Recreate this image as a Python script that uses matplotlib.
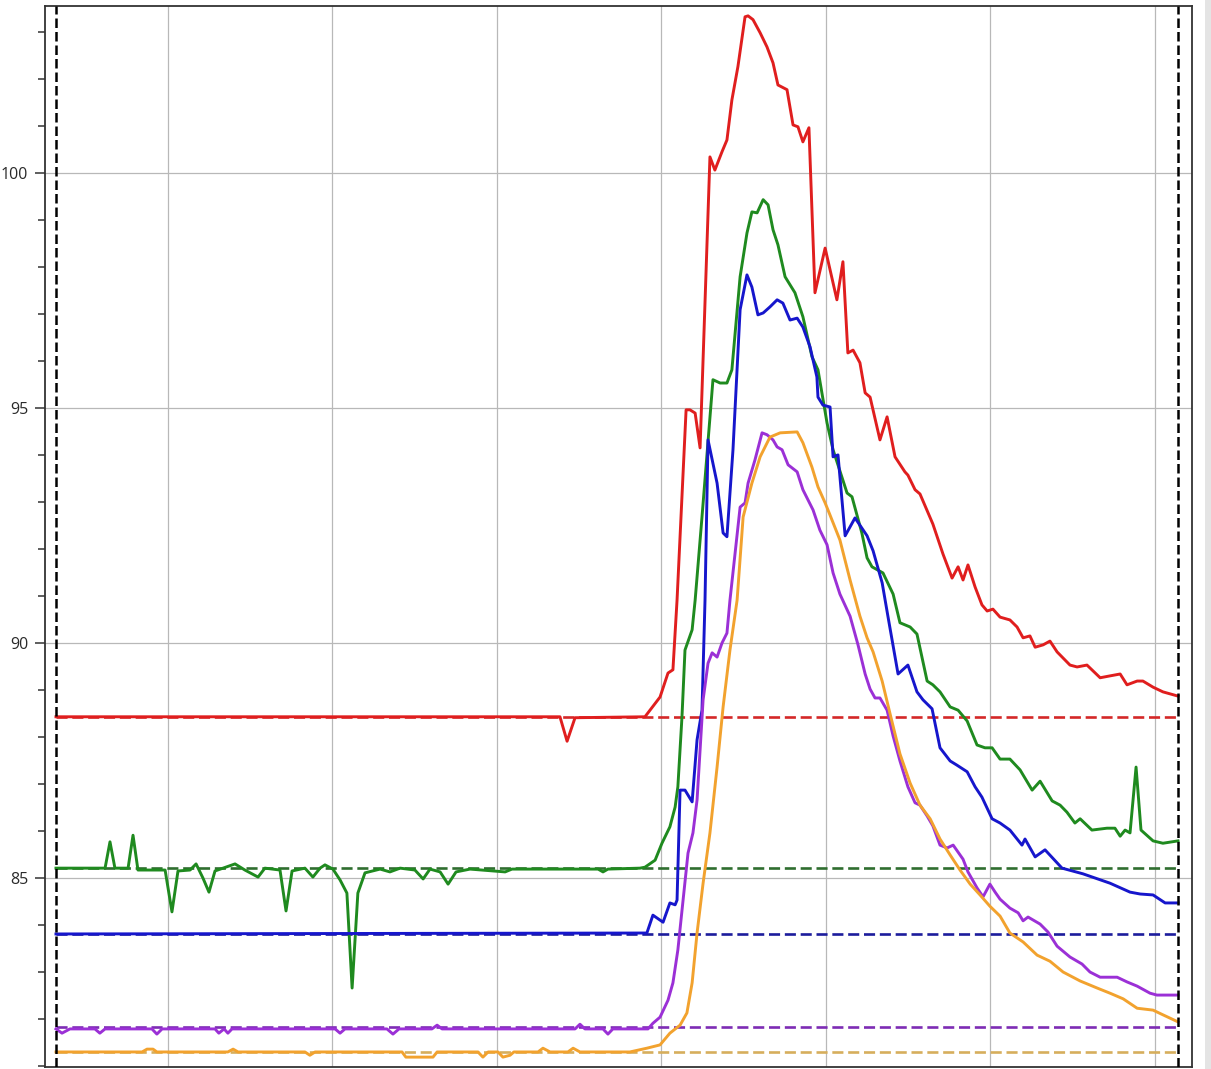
import matplotlib
matplotlib.use("Agg")
import matplotlib.pyplot as plt
from matplotlib.ticker import MultipleLocator
from matplotlib.patches import Rectangle

# Time in seconds from the start of the recording, values in the sensor units
red_t = [0, 183.8, 186.4, 189.3, 214.8, 220.3, 223.2, 225.0, 226.5, 229.8, 231.2, 233.1, 234.9,
         238.5, 240.3, 242.9, 244.7, 246.5, 248.7, 251.3, 252.4, 254.2, 256.8, 259.3, 261.5,
         263.3, 266.6, 268.8, 270.6, 272.4, 274.6, 276.8, 280.5, 284.8, 287.0, 288.8, 290.7,
         293.2, 295.1, 296.9, 300.5, 303.1, 306.0, 309.6, 310.7, 313.3, 315.1, 319.8, 323.5,
         326.8, 329.0, 330.8, 332.6, 335.2, 337.7, 339.6, 341.7, 344.3, 347.9, 350.5, 352.7,
         355.2, 357.1, 360.0, 362.5, 365.1, 369.8, 372.4, 376.0, 380.8, 384.4, 388.1, 390.6,
         394.3, 396.4, 400.1, 403.7, 409.2]
red_v = [88.43, 88.43, 87.91, 88.41, 88.43, 88.85, 89.36, 89.43, 90.91, 94.96, 94.96, 94.89, 94.15,
         100.34, 100.06, 100.45, 100.70, 101.55, 102.26, 103.32, 103.34, 103.26, 102.98, 102.68, 102.34,
         101.87, 101.77, 101.02, 100.98, 100.66, 100.96, 97.45, 98.40, 97.30, 98.11, 96.17, 96.23,
         95.96, 95.32, 95.23, 94.32, 94.81, 93.96, 93.64, 93.57, 93.26, 93.17, 92.53, 91.89,
         91.38, 91.62, 91.34, 91.66, 91.19, 90.81, 90.68, 90.72, 90.55, 90.49, 90.34, 90.11,
         90.15, 89.91, 89.96, 90.04, 89.81, 89.53, 89.49, 89.53, 89.26, 89.30, 89.34, 89.11,
         89.19, 89.19, 89.06, 88.96, 88.87]

green_t = [0, 16.0, 17.9, 19.7, 21.5, 26.3, 28.1, 29.9, 39.8, 42.3, 44.5, 48.9, 51.1, 53.6, 55.8,
           58.0, 65.3, 68.9, 73.7, 76.2, 81.7, 83.9, 86.1, 90.8, 93.7, 96.3, 98.1, 101.0, 103.6,
           106.1, 108.0, 110.1, 112.7, 118.2, 121.8, 125.5, 130.9, 133.9, 136.4, 140.1, 143.0,
           145.9, 151.0, 163.8, 166.3, 197.7, 199.5, 201.3, 213.0,
           214.8, 218.5, 221.0, 223.9, 225.8, 226.8, 228.3, 229.4, 232.0, 233.1, 235.6, 239.6,
           242.2, 244.7, 246.5, 249.5, 252.0, 253.8, 255.7, 257.9, 259.7, 261.5, 263.3, 265.9,
           269.5, 272.4, 275.7, 277.9, 281.2, 283.4, 288.5, 290.3, 293.9, 295.8, 297.6, 301.6,
           305.3, 307.8, 311.5, 314.0, 317.7, 319.8, 322.4, 326.1, 329.0, 332.3, 335.9, 338.8,
           341.4, 344.3, 347.9, 351.6, 356.0, 358.9, 363.3, 366.2, 368.7, 371.6, 373.5, 377.8,
           383.3, 386.2, 388.1, 389.9, 391.7, 393.9, 395.7, 400.1, 403.7, 409.2]
green_v = [85.21, 85.21, 85.21, 85.77, 85.21, 85.21, 85.91, 85.17, 85.17, 84.28, 85.15, 85.17, 85.30, 85.00, 84.70,
           85.15, 85.30, 85.17, 85.02, 85.21, 85.17, 84.30, 85.15, 85.21, 85.02, 85.21, 85.28, 85.19, 84.96,
           84.68, 82.66, 84.68, 85.11, 85.19, 85.13, 85.21, 85.17, 84.98, 85.19, 85.13, 84.87,
           85.13, 85.19, 85.13, 85.19, 85.19, 85.13, 85.19, 85.21,
           85.23, 85.38, 85.74, 86.09, 86.51, 86.94, 88.43, 89.85, 90.28, 90.91, 92.68, 95.60,
           95.53, 95.53, 95.81, 97.79, 98.72, 99.17, 99.15, 99.43, 99.32, 98.79, 98.47, 97.79,
           97.45, 96.94, 96.09, 95.81, 94.68, 94.11, 93.19, 93.11, 92.34, 91.81, 91.62, 91.49,
           91.04, 90.43, 90.34, 90.19, 89.19, 89.11, 88.96, 88.64, 88.57, 88.34, 87.83, 87.77,
           87.77, 87.53, 87.53, 87.30, 86.87, 87.06, 86.64, 86.55, 86.40, 86.17, 86.26, 86.02,
           86.06, 86.06, 85.89, 86.02, 85.96, 87.36, 86.02, 85.79, 85.74, 85.79]

blue_t = [0, 215.5, 217.7, 221.4, 223.9, 225.8, 226.5, 227.6, 229.4, 232.0, 233.8, 235.6, 236.7,
          237.8, 241.1, 243.3, 244.7, 246.9, 249.5, 252.0, 253.8, 256.0, 257.9, 260.4, 263.0,
          265.1, 267.7, 270.3, 272.4, 275.0, 277.5, 277.9, 279.7, 282.3, 283.4, 285.2, 287.8,
          291.4, 295.8, 298.0, 301.3, 303.4, 307.1, 310.7, 314.0, 316.2, 319.5, 322.4, 326.1,
          328.6, 332.3, 335.2, 337.7, 341.4, 344.3, 347.9, 352.3, 353.4, 357.1, 360.7, 366.9,
          374.5, 384.4, 391.7, 395.4, 400.1, 404.5, 409.2]
blue_v = [83.81, 83.83, 84.21, 84.06, 84.47, 84.43, 84.53, 86.87, 86.87, 86.62, 87.94, 88.57, 90.91,
          94.32, 93.40, 92.34, 92.26, 94.11, 97.09, 97.83, 97.57, 96.98, 97.02, 97.15, 97.30,
          97.23, 96.87, 96.91, 96.72, 96.30, 95.66, 95.23, 95.06, 95.02, 93.96, 94.00, 92.28,
          92.66, 92.28, 91.96, 91.28, 90.57, 89.34, 89.53, 88.96, 88.79, 88.60, 87.77, 87.49,
          87.40, 87.26, 86.94, 86.72, 86.26, 86.17, 86.02, 85.70, 85.83, 85.45, 85.60, 85.21,
          85.09, 84.89, 84.70, 84.66, 84.64, 84.47, 84.47]

purple_t = [0, 2.2, 5.1, 14.2, 16.0, 17.9, 35.0, 36.8, 38.7, 58.0, 59.4, 61.3, 62.7, 64.2,
            101.8, 103.6, 105.4, 120.7, 122.9, 125.1, 137.1, 139.0, 140.8, 189.3, 191.1, 192.9,
            199.5, 201.3, 203.1, 215.9,
            217.7, 220.3, 223.2, 225.0, 226.8, 228.7, 230.5, 232.3, 233.8, 234.9, 236.0, 237.8,
            239.3, 241.1, 242.9, 244.7, 245.8, 249.5, 251.3, 252.4, 254.9, 257.5, 259.3, 261.5,
            263.0, 264.8, 267.0, 270.3, 272.4, 276.1, 278.6, 281.2, 283.4, 285.9, 289.6, 292.5,
            295.1, 296.9, 298.7, 300.5, 303.1, 305.3, 307.8, 310.7, 313.3, 315.1, 317.7, 319.8,
            322.4, 325.0, 327.2, 330.8, 332.6, 335.9, 338.1, 340.6, 342.5, 344.3, 347.9, 350.9,
            352.7, 354.5, 358.9, 361.8, 365.1, 369.8, 374.2, 377.1, 380.8, 387.0, 390.6, 394.3,
            399.0, 401.5, 409.2]
purple_v = [81.79, 81.70, 81.79, 81.79, 81.70, 81.79, 81.79, 81.68, 81.79, 81.79, 81.70, 81.79, 81.70, 81.79,
            81.79, 81.70, 81.79, 81.79, 81.68, 81.79, 81.79, 81.87, 81.79, 81.79, 81.89, 81.79,
            81.79, 81.68, 81.79, 81.79,
            81.91, 82.04, 82.40, 82.77, 83.47, 84.53, 85.53, 85.96, 86.66, 87.72, 88.79, 89.57,
            89.79, 89.70, 90.00, 90.21, 90.91, 92.89, 92.98, 93.40, 93.89, 94.47, 94.43, 94.32,
            94.17, 94.11, 93.79, 93.64, 93.26, 92.83, 92.40, 92.09, 91.49, 91.04, 90.57, 89.96,
            89.34, 89.02, 88.83, 88.83, 88.57, 88.02, 87.49, 86.94, 86.60, 86.55, 86.32, 86.11,
            85.70, 85.64, 85.70, 85.40, 85.13, 84.79, 84.60, 84.87, 84.70, 84.55, 84.36, 84.26,
            84.09, 84.17, 84.02, 83.85, 83.55, 83.32, 83.17, 83.00, 82.89, 82.89, 82.79, 82.70,
            82.55, 82.51, 82.51]

orange_t = [0, 31.4, 33.2, 35.4, 36.8, 62.7, 64.6, 66.4, 90.8, 92.6, 94.5, 126.2, 127.6, 137.5,
            139.0, 153.9, 155.7, 157.6, 161.2, 163.0, 165.6, 167.0, 175.8, 177.6, 180.2, 186.7,
            188.6, 191.1, 209.3,
            215.5, 220.3, 223.9, 227.6, 230.1, 232.0, 233.8, 236.0, 238.5, 241.1, 243.3, 245.8,
            248.4, 250.6, 253.8, 256.8, 260.4, 264.1, 270.3, 272.4, 275.7, 277.9, 280.5, 282.3,
            285.9, 289.6, 293.2, 295.8, 298.0, 301.3, 304.2, 307.8, 311.5, 315.1, 318.8, 322.4,
            326.1, 329.7, 333.4, 337.0, 340.6, 344.3, 347.9, 352.7, 357.8, 362.5, 367.3, 373.5,
            379.7, 384.4, 389.2, 394.3, 400.1, 403.7, 409.2]
orange_v = [81.30, 81.30, 81.36, 81.36, 81.30, 81.30, 81.36, 81.30, 81.30, 81.23, 81.30, 81.30, 81.19, 81.19,
            81.30, 81.30, 81.19, 81.30, 81.30, 81.19, 81.23, 81.30, 81.30, 81.38, 81.30, 81.30,
            81.38, 81.30, 81.30,
            81.38, 81.45, 81.70, 81.87, 82.13, 82.77, 83.83, 84.89, 85.96, 87.36, 88.64, 89.85,
            90.91, 92.68, 93.40, 93.96, 94.38, 94.47, 94.49, 94.26, 93.74, 93.32, 92.98, 92.72,
            92.19, 91.34, 90.57, 90.11, 89.81, 89.19, 88.49, 87.64, 87.02, 86.55, 86.26, 85.83,
            85.49, 85.17, 84.87, 84.64, 84.40, 84.19, 83.83, 83.64, 83.36, 83.23, 83.00, 82.81,
            82.66, 82.55, 82.43, 82.23, 82.19, 82.09, 81.94]

# Reference level of each channel before the event
baselines = {"red": 88.43, "green": 85.21, "blue": 83.81, "purple": 81.83, "orange": 81.30}

series = [
    ("red", red_t, red_v, "#e01e1e", "#d42828"),
    ("green", green_t, green_v, "#1f8a1f", "#2f6e2f"),
    ("blue", blue_t, blue_v, "#1616cc", "#1c1c9c"),
    ("purple", purple_t, purple_v, "#9b30d6", "#7d2cb4"),
    ("orange", orange_t, orange_v, "#f2a22e", "#d6ae5c"),
]

fig = plt.figure(figsize=(12.11, 10.69), dpi=100)
fig.patches.append(Rectangle((1205 / 1211, 0), 6 / 1211, 1, transform=fig.transFigure,
                             facecolor="#e4e4e4", edgecolor="none"))
ax = fig.add_axes([45 / 1211, 2 / 1069, 1147 / 1211, 1061 / 1069])

t_start = min(red_t)
t_end = max(red_t)

for name, t, v, line_col, base_col in series:
    ax.plot([t_start, t_end], [baselines[name]] * 2, color=base_col, lw=1.9,
            dashes=(4.2, 1.8), zorder=2)

for name, t, v, line_col, base_col in series:
    ax.plot(t, v, color=line_col, lw=2.1, zorder=3, solid_joinstyle="round")

for xv in (t_start, t_end):
    ax.axvline(xv, color="black", lw=1.8, dashes=(3.8, 1.6), zorder=4)

ax.set_xlim(-4.0, 414.3)
ax.set_ylim(80.98, 103.55)

ax.xaxis.set_major_locator(MultipleLocator(60, offset=40.8))
ax.yaxis.set_major_locator(MultipleLocator(5))
ax.yaxis.set_minor_locator(MultipleLocator(1))
ax.grid(True, which="major", color="#b8b8b8", lw=0.9, zorder=0)
ax.set_axisbelow(True)

ax.tick_params(axis="x", length=0, labelbottom=False)
ax.tick_params(axis="y", which="major", length=7, width=1.1, color="#333333",
               labelsize=11.5, labelcolor="#2a2a2a", pad=5)
ax.tick_params(axis="y", which="minor", length=5, width=1.1, color="#333333")
for lab in ax.get_yticklabels():
    lab.set_fontfamily("Open Sans")

for sp in ax.spines.values():
    sp.set_color("#333333")
    sp.set_linewidth(1.3)

fig.savefig("out.png", dpi=100)
